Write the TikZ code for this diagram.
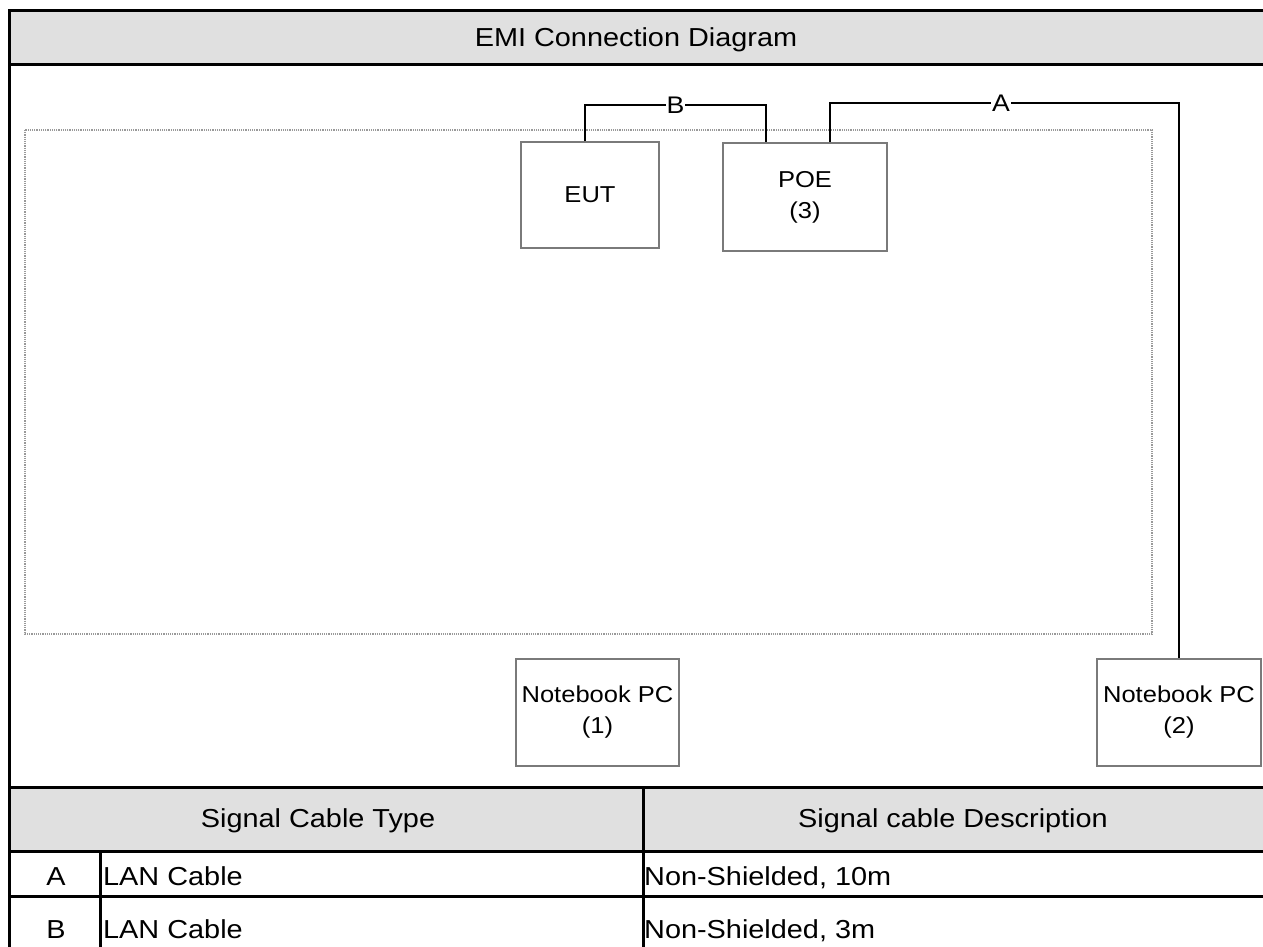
\documentclass[tikz,border=0pt]{standalone}
\usepackage{fontspec}
\setmainfont[FakeStretch=1.11]{Liberation Sans}
\usetikzlibrary{calc}
\definecolor{hdrgray}{HTML}{E0E0E0}
\definecolor{boxgray}{HTML}{7A7A7A}
\definecolor{dotgray}{HTML}{999999}
\begin{document}
\begin{tikzpicture}[x=1pt,y=-1pt,
  frame/.style={line width=3pt,black},
  big/.style={font=\fontsize{26}{30}\selectfont,inner sep=0pt,anchor=base},
  devbox/.style={draw=boxgray,line width=1.6pt,fill=white,align=center,
    font=\fontsize{23}{31}\selectfont,inner sep=0pt},
  cable/.style={line width=1.4pt,black},
  lbl/.style={fill=white,inner sep=1pt,font=\fontsize{24}{24}\selectfont},
  area/.style={dotgray,line width=2.2pt,dash pattern=on 1.2pt off 1pt}]
\useasboundingbox (0,0) rectangle (1263,947);
% header band
\fill[hdrgray] (9,11) rectangle (1263,65);
\node[big] (title) at (636,47) {EMI Connection Diagram};
% table header band
\fill[hdrgray] (9,787) rectangle (1263,851);
% frame lines
\draw[frame] (1263,11) -- (9,11) -- (9,947);
\draw[frame] (9,65) -- (1263,65);
\draw[frame] (9,787) -- (1263,787);
\draw[frame] (9,851) -- (1263,851);
\draw[frame] (9,896) -- (1263,896);
\draw[frame] (643,787) -- (643,947);
\draw[frame] (100,851) -- (100,947);
% table text
\node[big] (th1) at (318,827) {Signal Cable Type};
\node[big] (th2) at (953,827) {Signal cable Description};
\node[big] (ra) at (56,885) {A};
\node[big] (rb) at (56,938) {B};
\node[big,anchor=base west] (ra1) at (103,885) {LAN Cable};
\node[big,anchor=base west] (rb1) at (103,938) {LAN Cable};
\node[big,anchor=base west] (ra2) at (644,885) {Non-Shielded, 10m};
\node[big,anchor=base west] (rb2) at (644,938) {Non-Shielded, 3m};
% dotted test area
\draw[area] (25,130) rectangle (1152,634);
% devices
\node[devbox,minimum width=138pt,minimum height=106pt] (eut) at (590,195) {EUT};
\node[devbox,minimum width=164pt,minimum height=108pt] (poe) at (805,197) {POE\\(3)};
\node[devbox,minimum width=163pt,minimum height=107pt] (nb1) at (597.5,712.5) {Notebook PC\\(1)};
\node[devbox,minimum width=164pt,minimum height=107pt] (nb2) at (1179,712.5) {Notebook PC\\(2)};
% cable routing points
\coordinate (b1) at (585,105);
\coordinate (b2) at (766,105);
\coordinate (a1) at (830,103);
\coordinate (a2) at (1179,103);
\draw[cable] (eut.north -| b1) -- (b1) -- node[lbl]{B} (b2) -- (poe.north -| b2);
\draw[cable] (poe.north -| a1) -- (a1) -- node[lbl,pos=0.49]{A} (a2) -- (nb2.north);
\end{tikzpicture}
\end{document}
